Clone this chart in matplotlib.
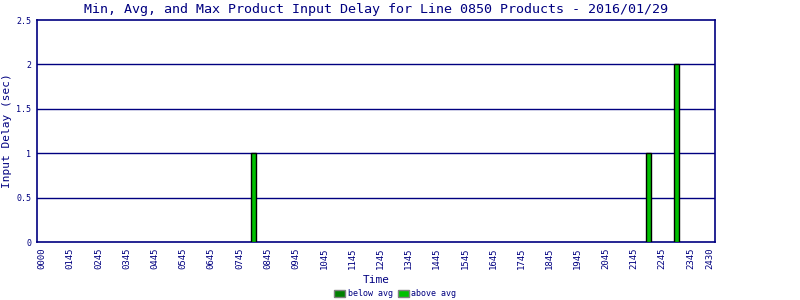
import matplotlib
matplotlib.use("Agg")
import matplotlib.pyplot as plt
from matplotlib.patches import Patch

# tick labels along the time axis (hour index positions)
tick_labels = ["0000", "0145", "0245", "0345", "0445", "0545", "0645", "0745",
               "0845", "0945", "1045", "1145", "1245", "1345", "1445", "1545",
               "1645", "1745", "1845", "1945", "2045", "2145", "2245", "2345", "2430"]
tick_pos = list(range(24)) + [23.7]

# bars: position (hour index) and delay in seconds
bar_pos = [7.5, 21.5, 22.5]
bar_delay = [1, 1, 2]

navy = "#000080"
font = "DejaVu Sans Mono"

fig = plt.figure(figsize=(8, 3), dpi=100)
ax = fig.add_axes([37/800, 58/300, 678/800, 222/300])

for y in [0.5, 1, 1.5, 2]:
    ax.axhline(y, color=navy, linewidth=1, zorder=1)

ax.bar(bar_pos, bar_delay, width=0.19, color="#00C000", edgecolor="black",
       linewidth=1, zorder=3)

ax.set_xlim(-0.18, 23.87)
ax.set_ylim(0, 2.5)
ax.set_xticks(tick_pos)
ax.set_xticklabels(tick_labels, rotation=90, fontsize=6.5, family=font, color=navy)
ax.set_yticks([0, 0.5, 1, 1.5, 2, 2.5])
ax.set_yticklabels(["0", "0.5", "1", "1.5", "2", "2.5"], fontsize=6, family=font, color=navy)
ax.tick_params(length=0, pad=4)
for s in ax.spines.values():
    s.set_color(navy)
    s.set_linewidth(1.2)

ax.set_xlabel("Time", fontsize=8, family=font, color=navy, labelpad=4)
ax.set_ylabel("Input Delay (sec)", fontsize=8, family=font, color=navy, labelpad=3)
ax.set_title("Min, Avg, and Max Product Input Delay for Line 0850 Products - 2016/01/29",
             fontsize=9.6, family=font, color=navy, pad=5)

handles = [Patch(facecolor="#008000", edgecolor="gray", label="below avg"),
           Patch(facecolor="#00C000", edgecolor="gray", label="above avg")]
leg = fig.legend(handles=handles, loc="lower center", bbox_to_anchor=(0.494, -0.02),
                 ncol=2, frameon=False, prop={"family": font, "size": 6},
                 handlelength=1.3, handleheight=0.9, columnspacing=0.6, handletextpad=0.3)
for t in leg.get_texts():
    t.set_color(navy)

fig.savefig("out.png", dpi=100)
